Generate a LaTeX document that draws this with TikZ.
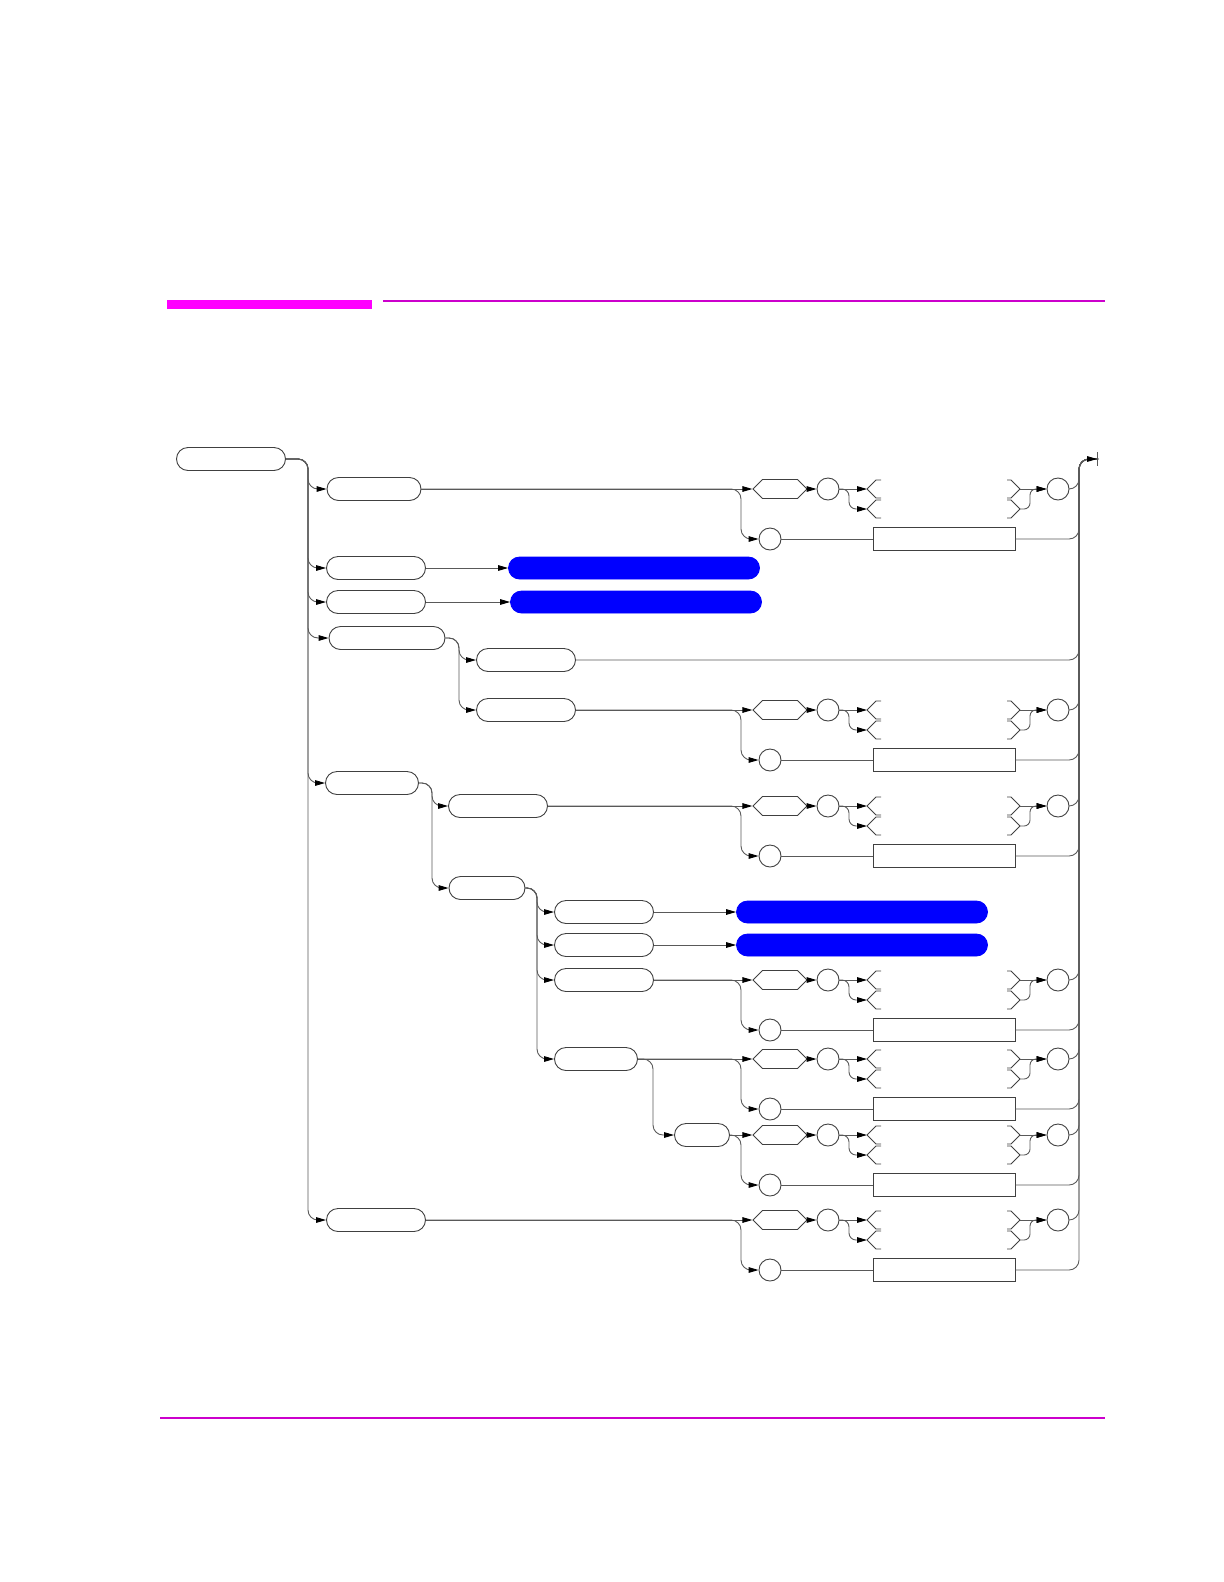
\documentclass[tikz,border=0pt]{standalone}
\usepackage{xcolor}
\usepackage{tikz}
\usetikzlibrary{shapes.symbols, arrows.meta, positioning, calc}
\definecolor{hpmag}{RGB}{255,0,255}
\definecolor{selblue}{RGB}{0,0,255}

% one option group: hexagon, circle, forks, circle / circle, field
\newcommand{\optblock}[2]{%
  \node[hexa] (hx#1) at (780,#2) {};
  \node[ring] (ca#1) at (828,#2) {};
  \node[ring] (cc#1) at (1058,#2) {};
  \node[ring] (cb#1) at (770,{#2+50}) {};
  \node[field] (rb#1) at (944,{#2+50}) {};
  \coordinate (fa#1) at (867,#2);
  \coordinate (fb#1) at (867,{#2+20});
  \coordinate (fc#1) at (1020,#2);
  \coordinate (fd#1) at (1020,{#2+20});
  \draw[ar] (hx#1) -- (ca#1);
  \draw[ar] (ca#1) -- (fa#1);
  \draw[ar,rounded corners=3.5bp] (ca#1.east) -| (849,{#2+20}) -- (fb#1);
  \draw[fk] (fa#1) -- ++(9,-9) -- ++(5,0) (fa#1) -- ++(9,9) -- ++(5,0);
  \draw[fk] (fb#1) -- ++(9,-9) -- ++(5,0) (fb#1) -- ++(9,9) -- ++(5,0);
  \draw[fk] (fc#1) -- ++(-9,-9) -- ++(-4,0) (fc#1) -- ++(-9,9) -- ++(-4,0);
  \draw[fk] (fd#1) -- ++(-9,-9) -- ++(-4,0) (fd#1) -- ++(-9,9) -- ++(-4,0);
  \draw[ar] (fc#1) -- (cc#1);
  \draw[ar,rounded corners=3bp] (fd#1) -| (1030,#2) -- (cc#1.west);
  \draw[ln] (cb#1) -- (rb#1);
  \draw[ln] (cc#1.east) -| (tR) -- (fin);
  \draw[ln] (rb#1.east) -| (tR) -- (fin);
}

\begin{document}
\begin{tikzpicture}[x=0.5bp,y=-0.5bp]
\tikzset{
  kw/.style={rectangle,rounded corners=5.75bp,draw=black!75,minimum height=11.5bp,inner sep=0pt,line width=0.45bp},
  sel/.style={rectangle,rounded corners=5.5bp,draw=selblue,fill=selblue,minimum height=11bp,minimum width=125.5bp,inner sep=0pt},
  hexa/.style={signal,signal to=west and east,draw=black!75,minimum width=27bp,minimum height=9.5bp,inner sep=0pt,line width=0.45bp},
  ring/.style={circle,draw=black!75,minimum size=11bp,inner sep=0pt,line width=0.45bp},
  field/.style={rectangle,draw=black!75,minimum width=71bp,minimum height=11.5bp,inner sep=0pt,line width=0.45bp},
  ln/.style={draw=black!65,line width=0.45bp,rounded corners=5bp},
  ar/.style={ln,-{Triangle[length=5bp,width=2.8bp,color=black]}},
  fk/.style={draw=black!75,line width=0.45bp}
}
\useasboundingbox (0,0) rectangle (1224,1582);
% page rules
\fill[hpmag] (167,300) rectangle (372,309);
\draw[hpmag!80!black,line width=1.3bp] (383,301) -- (1105,301);
\draw[hpmag!80!black,line width=1.3bp] (160,1418) -- (1105,1418);
% trunks
\coordinate (tA) at (308,459);
\coordinate (tB) at (459,638);
\coordinate (tC) at (432,783);
\coordinate (tD) at (537,888);
\coordinate (tE) at (653,1059);
\coordinate (tS) at (741,459);
\coordinate (tR) at (1079,459);
\coordinate (fq) at (1089,459);
\coordinate (fin) at (1098,459);
% keywords
\node[kw,minimum width=54.5bp] (start) at (231,459) {};
\node[kw,minimum width=47bp] (a1) at (374,489) {};
\node[kw,minimum width=49.5bp] (a2) at (376,568) {};
\node[kw,minimum width=49.5bp] (a3) at (376,602) {};
\node[kw,minimum width=58bp] (a4) at (387,638) {};
\node[kw,minimum width=46.5bp] (a5) at (372,783) {};
\node[kw,minimum width=49.5bp] (a6) at (376,1220) {};
\node[kw,minimum width=49.5bp] (b1) at (526,660) {};
\node[kw,minimum width=49.5bp] (b2) at (526,710) {};
\node[kw,minimum width=49.5bp] (c1) at (498,806) {};
\node[kw,minimum width=38bp] (c2) at (487,888) {};
\node[kw,minimum width=49.5bp] (d1) at (604,912) {};
\node[kw,minimum width=49.5bp] (d2) at (604,945) {};
\node[kw,minimum width=49.5bp] (d3) at (604,980) {};
\node[kw,minimum width=41.5bp] (d4) at (596,1059) {};
\node[kw,minimum width=27.5bp] (e1) at (702,1135) {};
% selected
\node[sel] (bl1) at (634,568) {};
\node[sel] (bl2) at (636,602) {};
\node[sel] (bl3) at (862,912) {};
\node[sel] (bl4) at (862,945) {};
% option groups
\optblock{1}{489}
\optblock{2}{710}
\optblock{3}{806}
\optblock{4}{980}
\optblock{5}{1059}
\optblock{6}{1135}
\optblock{7}{1220}
% first level
\draw[ar] (start.east) -| (tA |- a1.west) -- (a1.west);
\draw[ar] (start.east) -| (tA |- a2.west) -- (a2.west);
\draw[ar] (start.east) -| (tA |- a3.west) -- (a3.west);
\draw[ar] (start.east) -| (tA |- a4.west) -- (a4.west);
\draw[ar] (start.east) -| (tA |- a5.west) -- (a5.west);
\draw[ar] (start.east) -| (tA |- a6.west) -- (a6.west);
\draw[ar] (a2) -- (bl1);
\draw[ar] (a3) -- (bl2);
\draw[ar] (a4.east) -| (tB |- b1.west) -- (b1.west);
\draw[ar] (a4.east) -| (tB |- b2.west) -- (b2.west);
\draw[ln] (b1.east) -| (tR) -- (fin);
\draw[ar] (a5.east) -| (tC |- c1.west) -- (c1.west);
\draw[ar] (a5.east) -| (tC |- c2.west) -- (c2.west);
\draw[ar] (c2.east) -| (tD |- d1.west) -- (d1.west);
\draw[ar] (c2.east) -| (tD |- d2.west) -- (d2.west);
\draw[ar] (c2.east) -| (tD |- d3.west) -- (d3.west);
\draw[ar] (c2.east) -| (tD |- d4.west) -- (d4.west);
\draw[ar] (d1) -- (bl3);
\draw[ar] (d2) -- (bl4);
\draw[ar] (d4.east) -| (tE |- e1.west) -- (e1.west);
% entries into option groups
\draw[ar] (a1) -- (hx1);
\draw[ar] (a1.east) -| (tS |- cb1.west) -- (cb1.west);
\draw[ar] (b2) -- (hx2);
\draw[ar] (b2.east) -| (tS |- cb2.west) -- (cb2.west);
\draw[ar] (c1) -- (hx3);
\draw[ar] (c1.east) -| (tS |- cb3.west) -- (cb3.west);
\draw[ar] (d3) -- (hx4);
\draw[ar] (d3.east) -| (tS |- cb4.west) -- (cb4.west);
\draw[ar] (d4) -- (hx5);
\draw[ar] (d4.east) -| (tS |- cb5.west) -- (cb5.west);
\draw[ar] (e1) -- (hx6);
\draw[ar] (e1.east) -| (tS |- cb6.west) -- (cb6.west);
\draw[ar] (a6) -- (hx7);
\draw[ar] (a6.east) -| (tS |- cb7.west) -- (cb7.west);
% exit
\draw[ln,-{Triangle[length=5bp,width=2.8bp,color=black]Bar[width=7bp,line width=0.45bp]}] (fq) -- (fin);
\end{tikzpicture}
\end{document}
